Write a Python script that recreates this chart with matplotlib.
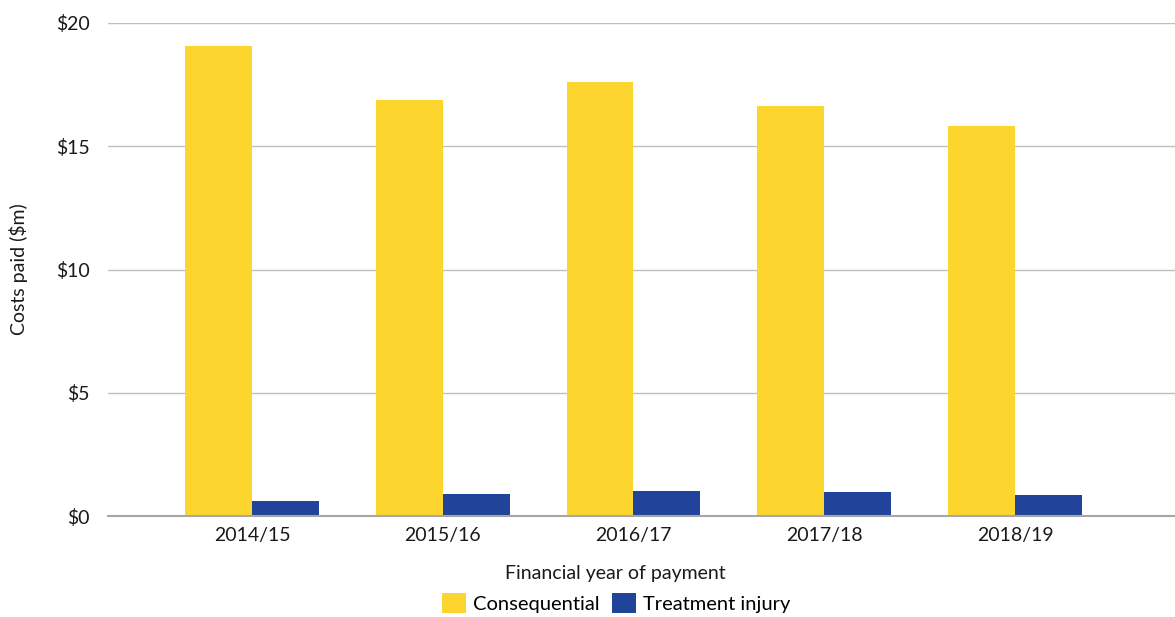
import numpy as np
import matplotlib.pyplot as plt

years = ["2014/15", "2015/16", "2016/17", "2017/18", "2018/19"]
consequential = [19.07, 16.88, 17.61, 16.63, 15.82]
treatment_injury = [0.61, 0.89, 1.01, 0.97, 0.85]

yellow = "#FDD52F"
blue = "#22439A"

plt.rcParams['font.family'] = ['Lato', 'DejaVu Sans']

fig = plt.figure(figsize=(11.75, 6.17), dpi=100)
ax = fig.add_axes([108 / 1175, 1 - 516 / 617, 1 - 108 / 1175, (516 - 23) / 617])

x = np.arange(len(years))
w = 0.351
ax.bar(x - w / 2, consequential, width=w, color=yellow, label="Consequential", zorder=3)
ax.bar(x + w / 2, treatment_injury, width=w, color=blue, label="Treatment injury", zorder=3)

ax.set_xlim(-0.755, 4.839)
ax.set_ylim(0, 20)
ax.set_yticks([0, 5, 10, 15, 20])
ax.set_yticklabels(["$0", "$5", "$10", "$15", "$20"])
ax.set_xticks(x)
ax.set_xticklabels(years)
ax.tick_params(axis='both', length=0, labelsize=14, colors='#1a1a1a')
ax.tick_params(axis='y', pad=13)
ax.tick_params(axis='x', pad=8)

ax.grid(axis='y', color='#BFBFBF', linewidth=1, zorder=0)
for s in ['top', 'right', 'left']:
    ax.spines[s].set_visible(False)
ax.spines['bottom'].set_color('#A6A6A6')
ax.spines['bottom'].set_linewidth(1.5)
ax.spines['bottom'].set_zorder(4)

ax.set_ylabel("Costs paid ($m)", fontsize=14, color='#1a1a1a')
ax.yaxis.set_label_coords(-(108 - 28) / 1067, 0.5)
ax.set_xlabel("Financial year of payment", fontsize=14, color='#1a1a1a')
ax.xaxis.set_label_coords((615 - 108) / 1067, -(565 - 516) / 493)

fig.legend(loc='center', bbox_to_anchor=(616 / 1175, 1 - 603 / 617), ncol=2,
           frameon=False, fontsize=14.5, handlelength=1.2, handleheight=1.2,
           handletextpad=0.35, columnspacing=0.6)

fig.savefig("out.png", dpi=100)
